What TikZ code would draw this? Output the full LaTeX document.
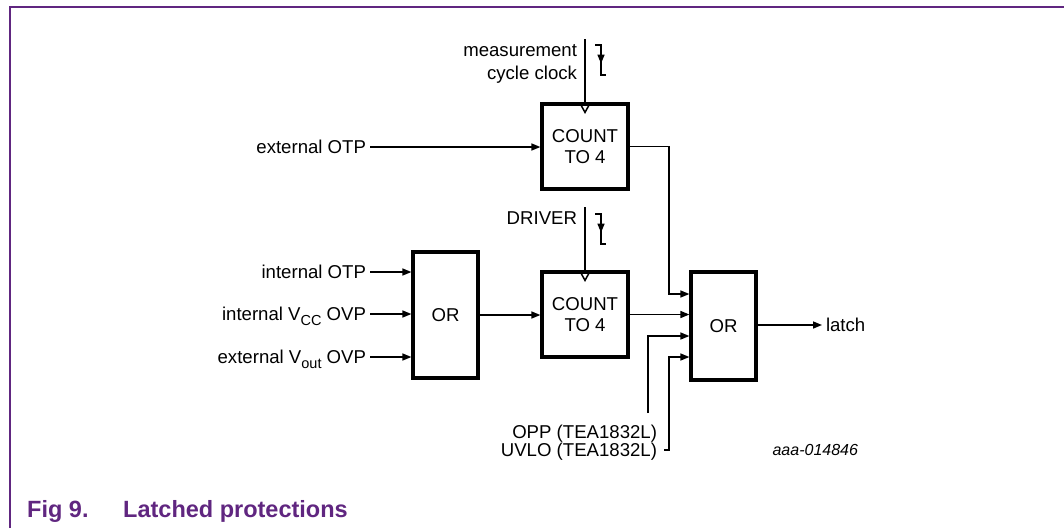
\documentclass[tikz,border=0pt]{standalone}
\usepackage{fontspec}
\setmainfont{Liberation Sans}
\usetikzlibrary{arrows.meta,calc}
\definecolor{nxppurple}{RGB}{96,38,128}
\newcommand{\mysub}[1]{\raisebox{-4.5pt}{\fontsize{14.5}{15}\selectfont #1}}
\begin{document}
\begin{tikzpicture}[x=1pt,y=-1pt,
  box/.style={draw,line width=3.2pt,inner sep=0pt,minimum width=#1,align=center,font=\fontsize{18.6}{21.5}\selectfont},
  lbl/.style={inner sep=0pt,outer sep=0pt,text height=13.4pt,text depth=0pt,font=\fontsize{18.6}{21.5}\selectfont},
  wire/.style={line width=1.5pt},
  arr/.style={line width=1.5pt,-{Triangle[length=9pt,width=7pt]}},
  frame/.style={draw=nxppurple,line width=1.6pt},
  figcap/.style={inner sep=0pt,text=nxppurple,font=\fontsize{23.5}{26}\selectfont\bfseries,anchor=west}]
\useasboundingbox (0,0) rectangle (1064,528);
% frame
\draw[frame] (10,528) -- (10,7) -- (1064,7);
% boxes
\node[box=86pt,minimum height=85pt] (cnt1) at (585,146.5) {COUNT\\[0pt]TO 4};
\node[box=86pt,minimum height=85pt] (cnt2) at (585,314.5) {COUNT\\[0pt]TO 4};
\node[box=65pt,minimum height=126pt] (or1) at (445.5,315) {OR};
\node[box=65pt,minimum height=108pt] (or2) at (723.5,326) {OR};
% labels
\node[lbl,anchor=east] (meas1) at (577,50) {measurement};
\node[lbl,anchor=east] (meas2) at (577,73) {cycle clock};
\node[lbl,anchor=east] (driver) at (577,218) {DRIVER};
\node[lbl,anchor=east] (extotp) at (366,147) {external OTP};
\node[lbl,anchor=east] (intotp) at (366,272) {internal OTP};
\node[lbl,anchor=east] (intvcc) at (366,314) {internal V\mysub{CC} OVP};
\node[lbl,anchor=east] (extvout) at (366,357) {external V\mysub{out} OVP};
\node[lbl,anchor=east] (opp) at (657,432) {OPP (TEA1832L)};
\node[lbl,anchor=east] (uvlo) at (657,450) {UVLO (TEA1832L)};
\node[lbl,anchor=west] (latch) at (826,325) {latch};
\node[lbl,anchor=east,font=\fontsize{16}{19}\selectfont\itshape] (code) at (858,449) {aaa-014846};
% caption
\node[figcap] (fig) at (27,511) {Fig 9.};
\node[figcap] (title) at (123,511) {Latched protections};
% clock inputs
\coordinate (clk1) at (585,39);
\coordinate (clk2) at (585,207);
\draw[wire] (clk1) -- (cnt1.north);
\draw[wire] (clk2) -- (cnt2.north);
\draw[wire] ([xshift=-5.5pt]cnt1.north) -- ([yshift=-10pt]cnt1.north) -- ([xshift=5.5pt]cnt1.north);
\draw[wire] ([xshift=-5.5pt]cnt2.north) -- ([yshift=-10pt]cnt2.north) -- ([xshift=5.5pt]cnt2.north);
% clock pulse symbols
\coordinate (p1a) at (595,45); \coordinate (p1b) at (601,45);
\coordinate (p1c) at (601,75); \coordinate (p1d) at (606,75);
\draw[wire] (p1a) -- (p1b) -- (p1c) -- (p1d);
\draw[arr] (p1b) -- ($(p1b)!0.62!(p1c)$);
\coordinate (p2a) at (595,214); \coordinate (p2b) at (601,214);
\coordinate (p2c) at (601,244); \coordinate (p2d) at (606,244);
\draw[wire] (p2a) -- (p2b) -- (p2c) -- (p2d);
\draw[arr] (p2b) -- ($(p2b)!0.62!(p2c)$);
% inputs
\draw[arr] ([xshift=4pt]extotp.east) -- (cnt1.west |- extotp.east);
\draw[arr] ([xshift=4pt]intotp.east) -- (or1.west |- intotp.east);
\draw[arr] ([xshift=4pt]intvcc.east) -- (or1.west |- intvcc.east);
\draw[arr] ([xshift=4pt]extvout.east) -- (or1.west |- extvout.east);
% internal connections
\draw[arr] (or1.east) -- (cnt2.west |- or1.east);
\coordinate (j1) at (669,294);
\draw[arr] (cnt1.east) -| (j1) -- (or2.west |- j1);
\draw[arr] (cnt2.east) -- (or2.west |- cnt2.east);
\coordinate (oppend) at (648,413);
\coordinate (j2) at (648,336);
\draw[arr] (oppend) -- (j2) -- (or2.west |- j2);
\coordinate (j3) at (669,357);
\draw[arr] ([xshift=7pt]uvlo.east) -| (j3) -- (or2.west |- j3);
% output
\draw[arr] (or2.east |- latch.west) -- ([xshift=-4pt]latch.west);
\end{tikzpicture}
\end{document}
